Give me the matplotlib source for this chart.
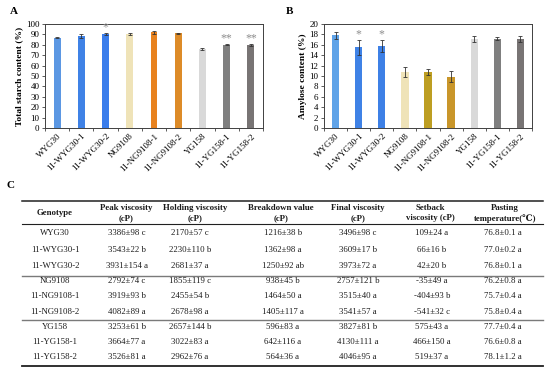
import matplotlib
matplotlib.use("Agg")
import matplotlib.pyplot as plt
import numpy as np
from matplotlib.lines import Line2D

plt.rcParams['font.family'] = ['Liberation Serif', 'DejaVu Serif']

# ---------------- data ----------------
genotypes = ["WYG30", "11-WYG30-1", "11-WYG30-2", "NG9108", "11-NG9108-1",
             "11-NG9108-2", "YG158", "11-YG158-1", "11-YG158-2"]
starch = [87.0, 88.5, 90.0, 90.5, 92.0, 91.2, 76.0, 80.0, 79.5]
starch_err = [0.5, 2.0, 1.0, 1.0, 1.5, 0.6, 0.6, 0.5, 1.0]
starch_sig = ["", "", "*", "", "", "", "", "**", "**"]
amylose = [17.8, 15.5, 15.8, 10.8, 10.8, 9.9, 17.1, 17.2, 17.1]
amylose_err = [0.7, 1.4, 1.1, 0.9, 0.6, 1.1, 0.5, 0.3, 0.6]
amylose_sig = ["", "*", "*", "", "", "", "", "", ""]

col_headers = [("Genotype", None), ("Peak viscosity", "(cP)"),
               ("Holding viscosity", "(cP)"), ("Breakdown value", "(cP)"),
               ("Final viscosity", "(cP)"), ("Setback", "viscosity (cP)"),
               ("Pasting", "temperature(℃)")]
peak = ["3386±98 c", "3543±22 b", "3931±154 a", "2792±74 c", "3919±93 b",
        "4082±89 a", "3253±61 b", "3664±77 a", "3526±81 a"]
holding = ["2170±57 c", "2230±110 b", "2681±37 a", "1855±119 c", "2455±54 b",
           "2678±98 a", "2657±144 b", "3022±83 a", "2962±76 a"]
breakdown = ["1216±38 b", "1362±98 a", "1250±92 ab", "938±45 b", "1464±50 a",
             "1405±117 a", "596±83 a", "642±116 a", "564±36 a"]
final = ["3496±98 c", "3609±17 b", "3973±72 a", "2757±121 b", "3515±40 a",
         "3541±57 a", "3827±81 b", "4130±111 a", "4046±95 a"]
setback = ["109±24 a", "66±16 b", "42±20 b", "-35±49 a", "-404±93 b",
           "-541±32 c", "575±43 a", "466±150 a", "519±37 a"]
pasting = ["76.8±0.1 a", "77.0±0.2 a", "76.8±0.1 a", "76.2±0.8 a", "75.7±0.4 a",
           "75.8±0.4 a", "77.7±0.4 a", "76.6±0.8 a", "78.1±1.2 a"]

colors_a = ['#5B97E3', '#3F82E6', '#3A7DEB', '#EFE3B8', '#E8821E', '#DD8B28',
            '#D9D9D9', '#7F7F7F', '#787474']
colors_b = ['#5FA3E8', '#3F82E6', '#3D80E6', '#EFE3B8', '#BD9E22', '#C9962A',
            '#D9D9D9', '#7F7F7F', '#787474']

W, H = 550, 373
fig = plt.figure(figsize=(5.5, 3.73), dpi=100)

def fx(x):
    return x / W

def fy(y):
    return 1 - y / H

def bar_panel(rect, vals, errs, sigs, colors, ymax, ystep, ylabel, width, sig_off):
    ax = fig.add_axes(rect)
    x = np.arange(len(genotypes))
    ax.bar(x, vals, width=width, color=colors, zorder=2)
    ax.errorbar(x, vals, yerr=errs, fmt='none', ecolor='#333333', elinewidth=0.6,
                capsize=1.6, capthick=0.6, zorder=3)
    for xi, v, e, s in zip(x, vals, errs, sigs):
        if s:
            ax.text(xi, v + e + sig_off, s, ha='center', va='bottom', fontsize=8.5,
                    color='#8C8C8C')
    ax.set_xlim(-0.5, len(genotypes) - 0.5)
    ax.set_ylim(0, ymax)
    ax.set_yticks(np.arange(0, ymax + 0.01, ystep))
    ax.set_xticks(x)
    ax.set_xticklabels(genotypes, rotation=45, ha='right', rotation_mode='anchor',
                       fontsize=6.5)
    ax.set_xticks(np.arange(-0.5, len(genotypes), 1), minor=True)
    ax.tick_params(axis='x', which='major', length=0, pad=3)
    ax.tick_params(axis='x', which='minor', length=2.5, width=0.6, direction='out',
                   color='#404040')
    ax.tick_params(axis='y', length=2.5, width=0.6, direction='out', labelsize=6.5,
                   pad=1.5, color='#404040')
    for sp in ax.spines.values():
        sp.set_linewidth(0.7)
        sp.set_color('#404040')
    ax.set_ylabel(ylabel, fontsize=6.8, fontweight='bold', labelpad=2)
    return ax

axA = bar_panel([fx(45), fy(128), fx(263 - 45), (128 - 24) / H], starch, starch_err,
                starch_sig, colors_a, 100, 10, "Total starch content (%)", 0.28, 0.3)
axB = bar_panel([fx(324), fy(128), fx(532 - 324), (128 - 24) / H], amylose, amylose_err,
                amylose_sig, colors_b, 20, 2, "Amylose content (%)", 0.32, 0.05)

fig.text(fx(10), fy(11), "A", fontsize=8, fontweight='bold', va='center')
fig.text(fx(286), fy(11), "B", fontsize=8, fontweight='bold', va='center')
fig.text(fx(6), fy(185), "C", fontsize=8, fontweight='bold', va='center')

# ---------------- table ----------------
col_x = [55, 126, 195, 281, 358, 430, 505]
val_x = [55, 127, 190, 283, 358, 432, 503]
columns = [genotypes, peak, holding, breakdown, final, setback, pasting]
row_y = [233, 249.5, 266, 281, 296.5, 312, 327, 342, 357]
tcolor = '#1a1a1a'
fs = 6.3

for (h1, h2), cx in zip(col_headers, col_x):
    if h2 is None:
        fig.text(fx(cx), fy(213), h1, ha='center', va='center', fontsize=fs,
                 fontweight='bold', color=tcolor)
    else:
        fig.text(fx(cx), fy(207.5), h1, ha='center', va='center', fontsize=fs,
                 fontweight='bold', color=tcolor)
        fig.text(fx(cx), fy(218.5), h2, ha='center', va='center', fontsize=fs,
                 fontweight='bold', color=tcolor)

for col, cx in zip(columns, val_x):
    for txt, ry in zip(col, row_y):
        fig.text(fx(cx), fy(ry), txt, ha='center', va='center', fontsize=fs,
                 color=tcolor)

def hline(y, lw, color):
    fig.add_artist(Line2D([fx(22), fx(543)], [fy(y), fy(y)], lw=lw, color=color,
                          transform=fig.transFigure))

hline(201, 1.1, '#202020')
hline(224.5, 0.8, '#202020')
hline(275.5, 1.0, '#7a7a7a')
hline(319.5, 1.0, '#7a7a7a')
hline(366, 1.3, '#202020')

fig.savefig("out.png", dpi=100)
